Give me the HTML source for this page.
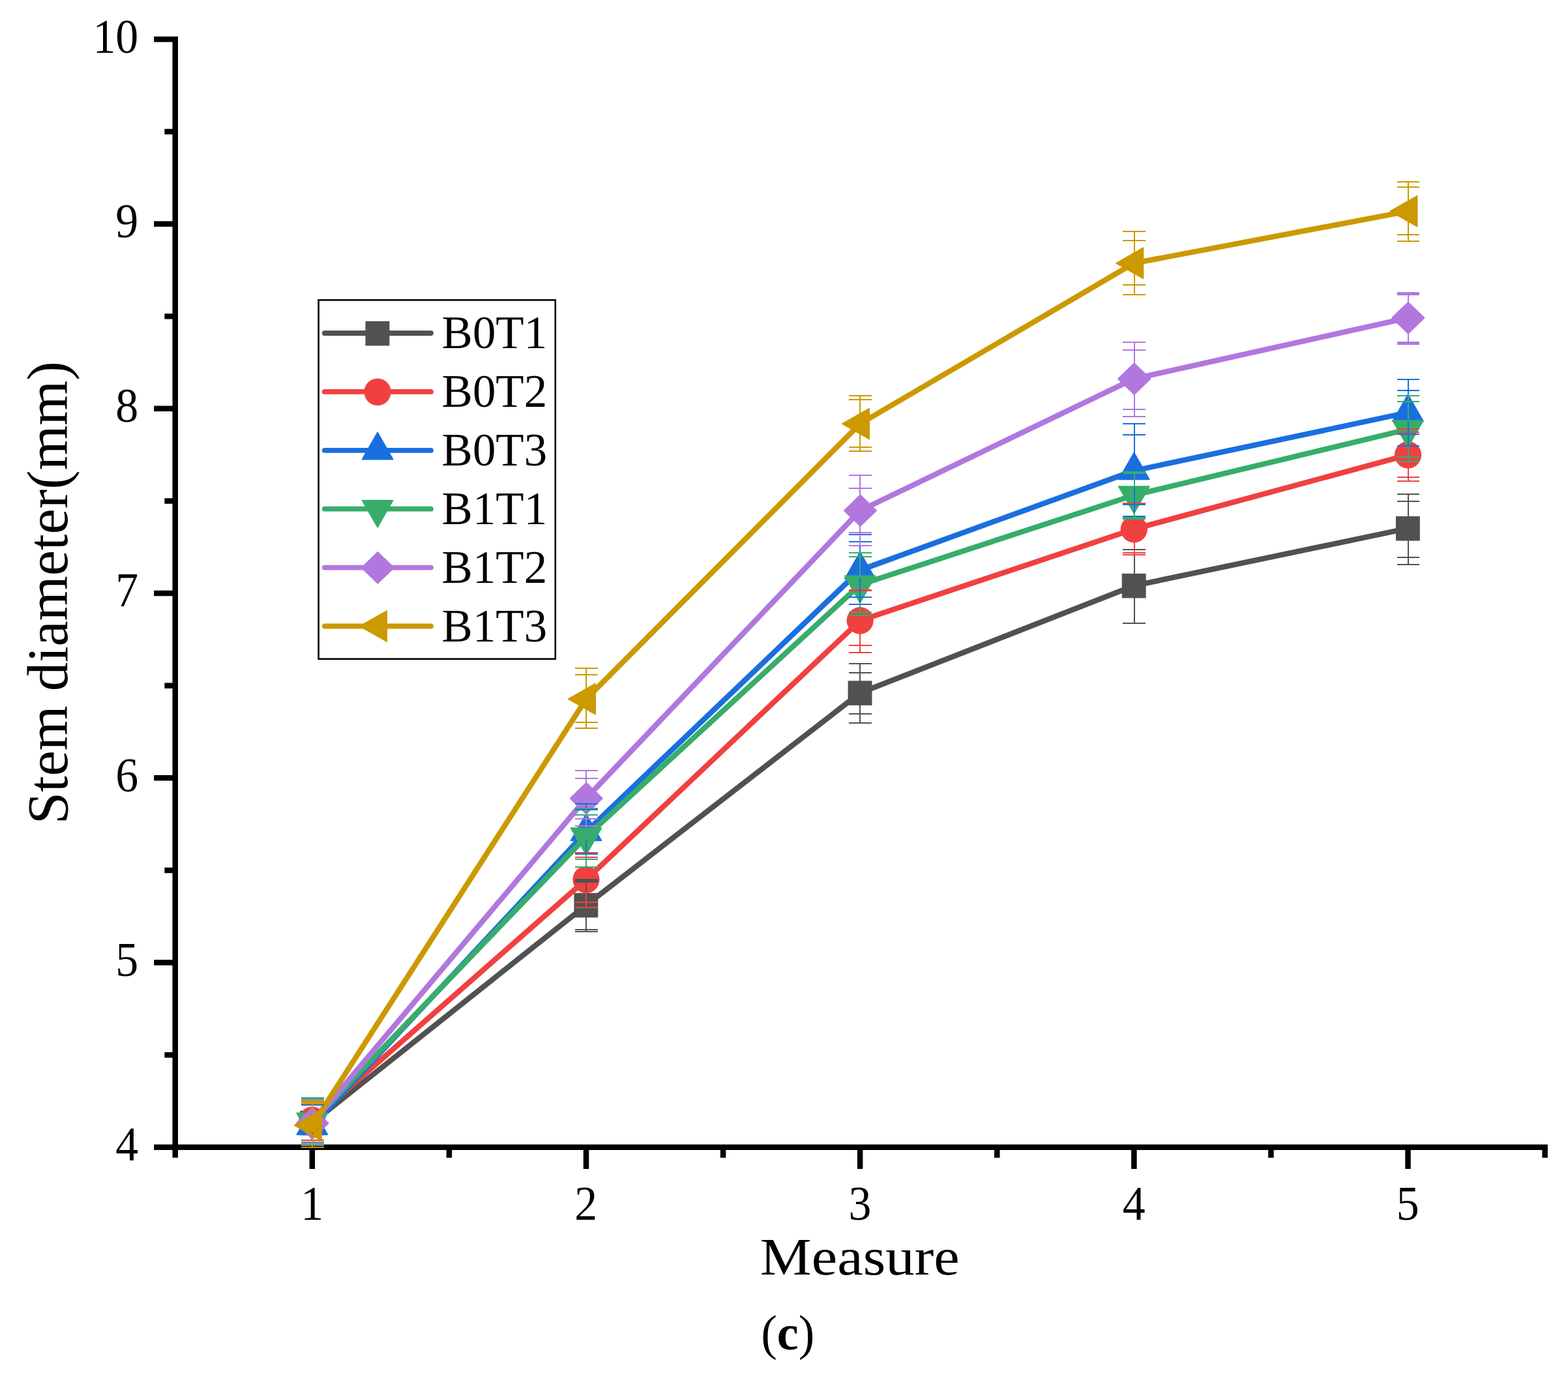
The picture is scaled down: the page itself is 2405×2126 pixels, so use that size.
<!DOCTYPE html>
<html lang="en">
<head>
<meta charset="utf-8">
<title>Stem diameter (c)</title>
<style>
html,body{margin:0;padding:0;background:#fff;}
body{width:2405px;height:2126px;overflow:hidden;font-family:"Liberation Serif","Times New Roman",serif;}
svg{display:block;}
</style>
</head>
<body>
<svg width="2405" height="2126" viewBox="0 0 2405 2126" font-family="'Liberation Serif', 'Times New Roman', serif" fill="#000">
<rect width="2405" height="2126" fill="#fff"/>
<g id="axes" stroke="#000" stroke-width="8.5" fill="none" stroke-linecap="butt">
<path d="M268.765 56.10V1775.85"/>
<path d="M236.16 1759.85H2373.86"/>
<path d="M252.36 1618.22H268.765"/>
<path d="M236.16 1476.60H268.765"/>
<path d="M252.36 1334.97H268.765"/>
<path d="M236.16 1193.35H268.765"/>
<path d="M252.36 1051.72H268.765"/>
<path d="M236.16 910.10H268.765"/>
<path d="M252.36 768.47H268.765"/>
<path d="M236.16 626.85H268.765"/>
<path d="M252.36 485.22H268.765"/>
<path d="M236.16 343.60H268.765"/>
<path d="M252.36 201.97H268.765"/>
<path d="M236.16 60.35H268.765"/>
<path d="M478.85 1759.85V1793.05"/>
<path d="M688.94 1759.85V1775.85"/>
<path d="M899.02 1759.85V1793.05"/>
<path d="M1109.11 1759.85V1775.85"/>
<path d="M1319.19 1759.85V1793.05"/>
<path d="M1529.28 1759.85V1775.85"/>
<path d="M1739.36 1759.85V1793.05"/>
<path d="M1949.45 1759.85V1775.85"/>
<path d="M2159.53 1759.85V1793.05"/>
<path d="M2369.62 1759.85V1775.85"/>
</g>
<g id="s-gray">
<polyline points="478.85,1722.40 899.02,1388.40 1319.19,1062.90 1739.36,898.40 2159.53,810.50" fill="none" stroke="#515151" stroke-width="8.3" stroke-linejoin="round"/>
<rect x="460.25" y="1703.80" width="36.9" height="37.6" fill="#515151"/>
<rect x="880.42" y="1369.80" width="36.9" height="37.6" fill="#515151"/>
<rect x="1300.59" y="1044.30" width="36.9" height="37.6" fill="#515151"/>
<rect x="1720.76" y="879.80" width="36.9" height="37.6" fill="#515151"/>
<rect x="2140.93" y="791.90" width="36.9" height="37.6" fill="#515151"/>
</g>
<g id="s-red">
<polyline points="478.85,1718.30 899.02,1349.20 1319.19,951.90 1739.36,811.60 2159.53,697.80" fill="none" stroke="#F14040" stroke-width="8.3" stroke-linejoin="round"/>
<ellipse cx="478.85" cy="1718.30" rx="20.6" ry="20.8" fill="#F14040"/>
<ellipse cx="899.02" cy="1349.20" rx="20.6" ry="20.8" fill="#F14040"/>
<ellipse cx="1319.19" cy="951.90" rx="20.6" ry="20.8" fill="#F14040"/>
<ellipse cx="1739.36" cy="811.60" rx="20.6" ry="20.8" fill="#F14040"/>
<ellipse cx="2159.53" cy="697.80" rx="20.6" ry="20.8" fill="#F14040"/>
</g>
<g id="s-blue">
<polyline points="478.85,1726.80 899.02,1276.00 1319.19,874.50 1739.36,722.00 2159.53,632.80" fill="none" stroke="#1A6FDF" stroke-width="8.3" stroke-linejoin="round"/>
<polygon points="455.20,1740.37 502.50,1740.37 478.85,1698.87" fill="#1A6FDF" stroke="#1A6FDF" stroke-width="1.6" stroke-linejoin="round"/>
<polygon points="875.37,1289.57 922.67,1289.57 899.02,1248.07" fill="#1A6FDF" stroke="#1A6FDF" stroke-width="1.6" stroke-linejoin="round"/>
<polygon points="1295.54,888.07 1342.84,888.07 1319.19,846.57" fill="#1A6FDF" stroke="#1A6FDF" stroke-width="1.6" stroke-linejoin="round"/>
<polygon points="1715.71,735.57 1763.01,735.57 1739.36,694.07" fill="#1A6FDF" stroke="#1A6FDF" stroke-width="1.6" stroke-linejoin="round"/>
<polygon points="2135.88,646.37 2183.18,646.37 2159.53,604.87" fill="#1A6FDF" stroke="#1A6FDF" stroke-width="1.6" stroke-linejoin="round"/>
</g>
<g id="s-green">
<polyline points="478.85,1720.80 899.02,1283.50 1319.19,896.90 1739.36,759.60 2159.53,658.50" fill="none" stroke="#37AD6B" stroke-width="8.3" stroke-linejoin="round"/>
<polygon points="455.20,1707.23 502.50,1707.23 478.85,1748.73" fill="#37AD6B" stroke="#37AD6B" stroke-width="1.6" stroke-linejoin="round"/>
<polygon points="875.37,1269.93 922.67,1269.93 899.02,1311.43" fill="#37AD6B" stroke="#37AD6B" stroke-width="1.6" stroke-linejoin="round"/>
<polygon points="1295.54,883.33 1342.84,883.33 1319.19,924.83" fill="#37AD6B" stroke="#37AD6B" stroke-width="1.6" stroke-linejoin="round"/>
<polygon points="1715.71,746.03 1763.01,746.03 1739.36,787.53" fill="#37AD6B" stroke="#37AD6B" stroke-width="1.6" stroke-linejoin="round"/>
<polygon points="2135.88,644.93 2183.18,644.93 2159.53,686.43" fill="#37AD6B" stroke="#37AD6B" stroke-width="1.6" stroke-linejoin="round"/>
</g>
<g id="s-purple">
<polyline points="478.85,1723.00 899.02,1224.60 1319.19,783.20 1739.36,581.10 2159.53,487.60" fill="none" stroke="#B177DE" stroke-width="8.3" stroke-linejoin="round"/>
<polygon points="454.35,1723.00 479.15,1698.90 503.95,1723.00 479.15,1747.10" fill="#B177DE" stroke="#B177DE" stroke-width="1.6" stroke-linejoin="round"/>
<polygon points="874.52,1224.60 899.32,1200.50 924.12,1224.60 899.32,1248.70" fill="#B177DE" stroke="#B177DE" stroke-width="1.6" stroke-linejoin="round"/>
<polygon points="1294.69,783.20 1319.49,759.10 1344.29,783.20 1319.49,807.30" fill="#B177DE" stroke="#B177DE" stroke-width="1.6" stroke-linejoin="round"/>
<polygon points="1714.86,581.10 1739.66,557.00 1764.46,581.10 1739.66,605.20" fill="#B177DE" stroke="#B177DE" stroke-width="1.6" stroke-linejoin="round"/>
<polygon points="2135.03,487.60 2159.83,463.50 2184.63,487.60 2159.83,511.70" fill="#B177DE" stroke="#B177DE" stroke-width="1.6" stroke-linejoin="round"/>
</g>
<g id="s-gold">
<polyline points="478.85,1726.00 899.02,1072.20 1319.19,650.00 1739.36,403.70 2159.53,324.00" fill="none" stroke="#CC9900" stroke-width="8.3" stroke-linejoin="round"/>
<polygon points="493.02,1702.35 493.02,1749.65 451.52,1726.00" fill="#CC9900" stroke="#CC9900" stroke-width="1.6" stroke-linejoin="round"/>
<polygon points="913.19,1048.55 913.19,1095.85 871.69,1072.20" fill="#CC9900" stroke="#CC9900" stroke-width="1.6" stroke-linejoin="round"/>
<polygon points="1333.36,626.35 1333.36,673.65 1291.86,650.00" fill="#CC9900" stroke="#CC9900" stroke-width="1.6" stroke-linejoin="round"/>
<polygon points="1753.53,380.05 1753.53,427.35 1712.03,403.70" fill="#CC9900" stroke="#CC9900" stroke-width="1.6" stroke-linejoin="round"/>
<polygon points="2173.70,300.35 2173.70,347.65 2132.20,324.00" fill="#CC9900" stroke="#CC9900" stroke-width="1.6" stroke-linejoin="round"/>
</g>
<g id="e-gray" stroke="#515151" stroke-width="2" fill="none" shape-rendering="crispEdges">
<path d="M479.05 1690.00V1705.80M479.05 1739.40V1757.00M461.90 1690.00H496.80M461.90 1692.00H496.80M461.90 1756.00H496.80M461.90 1757.00H496.80"/>
<path d="M899.22 1349.00V1371.80M899.22 1405.40V1429.10M882.07 1349.00H916.97M882.07 1351.00H916.97M882.07 1353.00H916.97M882.07 1425.90H916.97M882.07 1429.10H916.97"/>
<path d="M1319.39 1017.70V1046.30M1319.39 1079.90V1108.70M1302.24 1017.70H1337.14M1302.24 1032.00H1337.14M1302.24 1095.00H1337.14M1302.24 1108.70H1337.14"/>
<path d="M1739.56 842.60V881.80M1739.56 915.40V955.90M1722.41 842.60H1757.31M1722.41 842.60H1757.31M1722.41 955.90H1757.31M1722.41 955.90H1757.31"/>
<path d="M2159.73 757.90V793.90M2159.73 827.50V865.70M2142.58 757.90H2177.48M2142.58 769.20H2177.48M2142.58 854.70H2177.48M2142.58 865.70H2177.48"/>
</g>
<g id="e-red" stroke="#F14040" stroke-width="2" fill="none" shape-rendering="crispEdges">
<path d="M479.05 1691.00V1699.50M479.05 1737.10V1749.00M461.90 1691.00H496.80M461.90 1691.00H496.80M461.90 1749.00H496.80M461.90 1749.00H496.80"/>
<path d="M899.22 1307.50V1330.40M899.22 1368.00V1391.70M882.07 1307.50H916.97M882.07 1314.50H916.97M882.07 1383.50H916.97M882.07 1391.70H916.97"/>
<path d="M1319.39 904.80V933.10M1319.39 970.70V1000.60M1302.24 904.80H1337.14M1302.24 906.00H1337.14M1302.24 990.30H1337.14M1302.24 1000.60H1337.14"/>
<path d="M1739.56 771.70V792.80M1739.56 830.40V851.00M1722.41 771.70H1757.31M1722.41 773.00H1757.31M1722.41 848.30H1757.31M1722.41 851.00H1757.31"/>
<path d="M2159.73 657.50V679.00M2159.73 716.60V737.50M2142.58 657.50H2177.48M2142.58 663.00H2177.48M2142.58 732.30H2177.48M2142.58 737.50H2177.48"/>
</g>
<g id="e-blue" stroke="#1A6FDF" stroke-width="2" fill="none" shape-rendering="crispEdges">
<path d="M479.05 1693.00V1700.07M479.05 1738.67V1757.00M461.90 1695.00H496.80M461.90 1693.00H496.80M461.90 1757.00H496.80M461.90 1757.00H496.80"/>
<path d="M899.22 1233.30V1249.27M899.22 1287.87V1318.00M882.07 1233.30H916.97M882.07 1241.60H916.97M882.07 1310.00H916.97M882.07 1318.00H916.97"/>
<path d="M1319.39 820.40V847.77M1319.39 886.37V927.00M1302.24 820.40H1337.14M1302.24 831.10H1337.14M1302.24 916.30H1337.14M1302.24 927.00H1337.14"/>
<path d="M1739.56 650.20V695.27M1739.56 733.87V791.50M1722.41 650.20H1757.31M1722.41 667.00H1757.31M1722.41 774.20H1757.31M1722.41 791.50H1757.31"/>
<path d="M2159.73 581.90V606.07M2159.73 644.67V683.80M2142.58 581.90H2177.48M2142.58 599.40H2177.48M2142.58 665.50H2177.48M2142.58 683.80H2177.48"/>
</g>
<g id="e-green" stroke="#37AD6B" stroke-width="2" fill="none" shape-rendering="crispEdges">
<path d="M479.05 1683.50V1708.43M479.05 1747.53V1757.00M461.90 1683.50H496.80M461.90 1685.00H496.80M461.90 1752.00H496.80M461.90 1757.00H496.80"/>
<path d="M899.22 1239.60V1271.13M899.22 1310.23V1329.50M882.07 1239.60H916.97M882.07 1250.30H916.97M882.07 1318.30H916.97M882.07 1329.50H916.97"/>
<path d="M1319.39 847.80V884.53M1319.39 923.63V943.70M1302.24 847.80H1337.14M1302.24 853.90H1337.14M1302.24 939.10H1337.14M1302.24 943.70H1337.14"/>
<path d="M1739.56 724.00V747.23M1739.56 786.33V796.00M1722.41 724.00H1757.31M1722.41 726.00H1757.31M1722.41 794.00H1757.31M1722.41 796.00H1757.31"/>
<path d="M2159.73 607.40V646.13M2159.73 685.23V708.20M2142.58 607.40H2177.48M2142.58 615.50H2177.48M2142.58 700.90H2177.48M2142.58 708.20H2177.48"/>
</g>
<g id="e-purple" stroke="#B177DE" stroke-width="2" fill="none" shape-rendering="crispEdges">
<path d="M479.05 1686.50V1700.40M479.05 1745.90V1755.00M461.90 1686.50H496.80M461.90 1688.00H496.80M461.90 1754.30H496.80M461.90 1755.00H496.80"/>
<path d="M899.22 1181.80V1202.00M899.22 1247.50V1267.00M882.07 1181.80H916.97M882.07 1193.70H916.97M882.07 1255.80H916.97M882.07 1267.00H916.97"/>
<path d="M1319.39 729.10V760.60M1319.39 806.10V837.20M1302.24 729.10H1337.14M1302.24 748.90H1337.14M1302.24 816.80H1337.14M1302.24 837.20H1337.14"/>
<path d="M1739.56 525.30V558.50M1739.56 604.00V638.60M1722.41 525.30H1757.31M1722.41 536.80H1757.31M1722.41 627.50H1757.31M1722.41 638.60H1757.31"/>
<path d="M2159.73 449.00V465.00M2159.73 510.50V527.80M2142.58 449.00H2177.48M2142.58 451.00H2177.48M2142.58 452.00H2177.48M2142.58 525.20H2177.48M2142.58 527.00H2177.48M2142.58 527.80H2177.48"/>
</g>
<g id="e-gold" stroke="#CC9900" stroke-width="2" fill="none" shape-rendering="crispEdges">
<path d="M479.05 1689.00V1711.70M479.05 1740.30V1759.50M461.90 1689.00H496.80M461.90 1691.00H496.80M461.90 1693.00H496.80M461.90 1759.50H496.80"/>
<path d="M899.22 1025.40V1057.90M899.22 1086.50V1116.50M882.07 1025.40H916.97M882.07 1034.90H916.97M882.07 1108.30H916.97M882.07 1116.50H916.97"/>
<path d="M1319.39 607.40V635.70M1319.39 664.30V692.00M1302.24 607.40H1337.14M1302.24 612.90H1337.14M1302.24 685.90H1337.14M1302.24 692.00H1337.14"/>
<path d="M1739.56 355.20V389.40M1739.56 418.00V451.60M1722.41 355.20H1757.31M1722.41 368.80H1757.31M1722.41 437.20H1757.31M1722.41 451.60H1757.31"/>
<path d="M2159.73 279.30V309.70M2159.73 338.30V369.50M2142.58 279.30H2177.48M2142.58 286.80H2177.48M2142.58 360.30H2177.48M2142.58 369.50H2177.48"/>
</g>
<g id="ticklabels" font-size="73.6">
<text transform="translate(212.3 1780.15) scale(0.95 1)" text-anchor="end">4</text>
<text transform="translate(212.3 1496.90) scale(0.95 1)" text-anchor="end">5</text>
<text transform="translate(212.3 1213.65) scale(0.95 1)" text-anchor="end">6</text>
<text transform="translate(212.3 930.40) scale(0.95 1)" text-anchor="end">7</text>
<text transform="translate(212.3 647.15) scale(0.95 1)" text-anchor="end">8</text>
<text transform="translate(212.3 363.90) scale(0.95 1)" text-anchor="end">9</text>
<text transform="translate(212.3 80.65) scale(0.95 1)" text-anchor="end">10</text>
<text transform="translate(478.65 1871) scale(0.95 1)" text-anchor="middle">1</text>
<text transform="translate(898.82 1871) scale(0.95 1)" text-anchor="middle">2</text>
<text transform="translate(1318.99 1871) scale(0.95 1)" text-anchor="middle">3</text>
<text transform="translate(1739.16 1871) scale(0.95 1)" text-anchor="middle">4</text>
<text transform="translate(2159.33 1871) scale(0.95 1)" text-anchor="middle">5</text>
</g>
<text id="ytitle" font-size="88.5" text-anchor="middle" transform="translate(103.4 909.2) rotate(-90)">Stem diameter(mm)</text>
<text id="xtitle" font-size="81.3" text-anchor="middle" transform="translate(1318.8 1954.9) scale(1.093 1)">Measure</text>
<text id="cap" font-size="75.4" transform="translate(1167.2 2069.9) scale(0.982 1)">(<tspan font-weight="bold">c</tspan>)</text>
<g id="legend">
<rect x="488.6" y="460.2" width="363.2" height="550.6" fill="#fff" stroke="#000" stroke-width="2.6"/>
<path d="M497.8 511.00H661" stroke="#515151" stroke-width="7.8" stroke-linecap="round" fill="none"/>
<rect x="560.50" y="492.70" width="36.9" height="37.6" fill="#515151"/>
<text transform="translate(677.6 534.30) scale(0.985 1)" font-size="72">B0T1</text>
<path d="M497.8 600.90H661" stroke="#F14040" stroke-width="7.8" stroke-linecap="round" fill="none"/>
<ellipse cx="579.10" cy="601.20" rx="20.6" ry="20.8" fill="#F14040"/>
<text transform="translate(677.6 624.20) scale(0.985 1)" font-size="72">B0T2</text>
<path d="M497.8 690.80H661" stroke="#1A6FDF" stroke-width="7.8" stroke-linecap="round" fill="none"/>
<polygon points="555.45,704.67 602.75,704.67 579.10,663.17" fill="#1A6FDF" stroke="#1A6FDF" stroke-width="1.6" stroke-linejoin="round"/>
<text transform="translate(677.6 714.10) scale(0.985 1)" font-size="72">B0T3</text>
<path d="M497.8 780.70H661" stroke="#37AD6B" stroke-width="7.8" stroke-linecap="round" fill="none"/>
<polygon points="555.45,767.43 602.75,767.43 579.10,808.93" fill="#37AD6B" stroke="#37AD6B" stroke-width="1.6" stroke-linejoin="round"/>
<text transform="translate(677.6 804.00) scale(0.985 1)" font-size="72">B1T1</text>
<path d="M497.8 870.60H661" stroke="#B177DE" stroke-width="7.8" stroke-linecap="round" fill="none"/>
<polygon points="554.60,870.90 579.40,846.80 604.20,870.90 579.40,895.00" fill="#B177DE" stroke="#B177DE" stroke-width="1.6" stroke-linejoin="round"/>
<text transform="translate(677.6 893.90) scale(0.985 1)" font-size="72">B1T2</text>
<path d="M497.8 960.50H661" stroke="#CC9900" stroke-width="7.8" stroke-linecap="round" fill="none"/>
<polygon points="593.27,936.85 593.27,984.15 551.77,960.50" fill="#CC9900" stroke="#CC9900" stroke-width="1.6" stroke-linejoin="round"/>
<text transform="translate(677.6 983.80) scale(0.985 1)" font-size="72">B1T3</text>
</g>
</svg>
</body>
</html>
